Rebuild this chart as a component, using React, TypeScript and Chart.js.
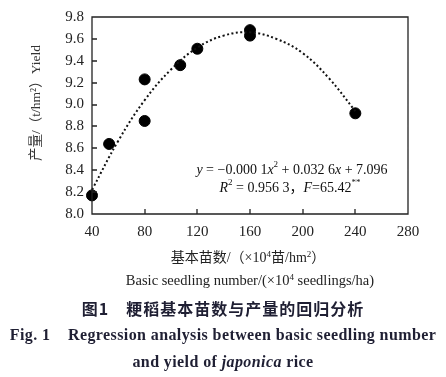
import React, { useEffect, useRef } from "react";
import { Chart, registerables } from "chart.js";
Chart.register(...registerables);

// Observed data (basic seedling number ×10^4/hm², yield t/hm²)
const seedlingX = [40, 53, 80, 80, 107, 120, 160, 160, 240];
const yieldY = [8.17, 8.64, 9.23, 8.85, 9.36, 9.51, 9.68, 9.63, 8.92];

// Dotted trend line
const trendX = [40, 60, 80, 100, 120, 140, 160, 180, 200, 220, 240];
const trendY = [8.22, 8.67, 9.04, 9.32, 9.52, 9.63, 9.66, 9.6, 9.47, 9.24, 8.94];

const xTicks = [40, 80, 120, 160, 200, 240, 280];
const yTicks = [8.0, 8.2, 8.4, 8.6, 8.8, 9.0, 9.2, 9.4, 9.6, 9.8];

const yTitle = "产量/（t/hm²）Yield";

const eqLine1 = [
  { t: "y", it: true },
  { t: " = −0.000 1" },
  { t: "x", it: true },
  { t: "2", sup: true },
  { t: " + 0.032 6" },
  { t: "x", it: true },
  { t: " + 7.096" },
];
const eqLine2 = [
  { t: "R", it: true },
  { t: "2", sup: true },
  { t: " = 0.956 3，" },
  { t: "F", it: true },
  { t: "=65.42" },
  { t: "**", sup: true },
];

const SERIF = '"Liberation Serif", "DejaVu Serif", "Noto Sans CJK SC", serif';

type Run = { t: string; it?: boolean; sup?: boolean };

function drawRuns(ctx: CanvasRenderingContext2D, runs: Run[], cx: number, y: number, size: number) {
  const fontFor = (r: Run) => `${r.it ? "italic " : ""}${r.sup ? Math.round(size * 0.62) : size}px ${SERIF}`;
  const widths = runs.map((r) => {
    ctx.font = fontFor(r);
    return ctx.measureText(r.t).width;
  });
  const total = widths.reduce((a, b) => a + b, 0);
  let x = cx - total / 2;
  ctx.textAlign = "left";
  ctx.textBaseline = "middle";
  runs.forEach((r, i) => {
    ctx.font = fontFor(r);
    ctx.fillText(r.t, x, r.sup ? y - size * 0.35 : y);
    x += widths[i];
  });
}

const framePlugin = {
  id: "framePlugin",
  afterDraw(chart: any) {
    const { ctx, chartArea } = chart;
    const xs = chart.scales.x;
    const ys = chart.scales.y;
    const L = Math.round(chartArea.left);
    const R = Math.round(chartArea.right);
    const T = Math.round(chartArea.top);
    const B = Math.round(chartArea.bottom);
    ctx.save();
    ctx.setLineDash([]);
    ctx.strokeStyle = "#222";
    ctx.lineWidth = 1.3;
    ctx.beginPath();
    ctx.moveTo(L, T);
    ctx.lineTo(R, T);
    ctx.lineTo(R, B);
    ctx.lineTo(L, B);
    ctx.closePath();
    yTicks.forEach((v) => {
      const py = Math.round(ys.getPixelForValue(v));
      ctx.moveTo(L, py);
      ctx.lineTo(L + 5, py);
    });
    xTicks.forEach((v) => {
      const px = Math.round(xs.getPixelForValue(v));
      ctx.moveTo(px, B);
      ctx.lineTo(px, B - 5);
    });
    ctx.stroke();
    ctx.fillStyle = "#111";
    drawRuns(ctx, eqLine1, 292, 170, 14);
    drawRuns(ctx, eqLine2, 290, 188, 14);
    ctx.translate(36, 103);
    ctx.rotate(-Math.PI / 2);
    ctx.font = `13.5px ${SERIF}`;
    ctx.fillStyle = "#333";
    ctx.textAlign = "center";
    ctx.textBaseline = "middle";
    ctx.fillText(yTitle, 0, 0);
    ctx.restore();
  },
};

export default function App() {
  const ref = useRef<HTMLCanvasElement>(null);
  useEffect(() => {
    document.body.style.margin = "0";
    const chart = new Chart(ref.current!, {
      type: "scatter",
      data: {
        datasets: [
          {
            type: "line",
            data: trendX.map((x, i) => ({ x, y: trendY[i] })),
            borderColor: "#111",
            borderWidth: 2,
            borderDash: [2, 2.5],
            pointRadius: 0,
            tension: 0.4,
            fill: false,
            clip: false,
          } as any,
          {
            data: seedlingX.map((x, i) => ({ x, y: yieldY[i] })),
            backgroundColor: "#000",
            borderColor: "#000",
            pointRadius: 5.5,
            clip: false,
          } as any,
        ],
      },
      options: {
        responsive: false,
        animation: false,
        layout: { padding: { left: 0, right: 38, top: 11, bottom: 0 } },
        plugins: { legend: { display: false }, tooltip: { enabled: false } },
        scales: {
          x: {
            type: "linear",
            min: 40,
            max: 280,
            afterBuildTicks: (s: any) => {
              s.ticks = xTicks.map((v) => ({ value: v }));
            },
            afterFit: (s: any) => {
              s.height = 76;
            },
            grid: { display: false, drawTicks: false },
            border: { display: false },
            ticks: { padding: 9, color: "#222", font: { family: SERIF, size: 15 }, maxRotation: 0 },
          },
          y: {
            type: "linear",
            min: 8.0,
            max: 9.8,
            afterBuildTicks: (s: any) => {
              s.ticks = yTicks.map((v) => ({ value: v }));
            },
            afterFit: (s: any) => {
              s.width = 92;
            },
            grid: { display: false, drawTicks: false },
            border: { display: false },
            ticks: {
              padding: 8,
              color: "#222",
              font: { family: SERIF, size: 15 },
              callback: (v: any) => Number(v).toFixed(1),
            },
          },
        },
      },
      plugins: [framePlugin],
    });
    return () => chart.destroy();
  }, []);

  const lineStyle = (top: number, extra: React.CSSProperties = {}): React.CSSProperties => ({
    position: "absolute",
    left: 0,
    width: 446,
    top,
    height: 20,
    lineHeight: "20px",
    textAlign: "center",
    whiteSpace: "nowrap",
    ...extra,
  });
  const sup: React.CSSProperties = { fontSize: 9, verticalAlign: "5px", lineHeight: 0 };

  return (
    <div style={{ position: "relative", width: 446, height: 377, background: "#fff", overflow: "hidden" }}>
      <canvas ref={ref} width={446} height={290} style={{ display: "block" }} />
      <div style={lineStyle(248, { fontFamily: SERIF, fontSize: 14, color: "#222", left: 25 })}>
        基本苗数/（×10<sup style={sup}>4</sup>苗/hm<sup style={sup}>2</sup>）
      </div>
      <div style={lineStyle(270, { fontFamily: SERIF, fontSize: 14.5, color: "#222", left: 27 })}>
        Basic seedling number/(×10<sup style={sup}>4</sup> seedlings/ha)
      </div>
      <div style={lineStyle(298, { fontFamily: '"Noto Sans CJK SC", sans-serif', fontWeight: 700, fontSize: 16, color: "#1f1f33", letterSpacing: 1 })}>
        图1　粳稻基本苗数与产量的回归分析
      </div>
      <div style={lineStyle(325, { fontFamily: SERIF, fontWeight: 700, fontSize: 16, color: "#1f1f33", letterSpacing: 0.4 })}>
        Fig. 1&nbsp;&nbsp;&nbsp;&nbsp;Regression analysis between basic seedling number
      </div>
      <div style={lineStyle(352, { fontFamily: SERIF, fontWeight: 700, fontSize: 16, color: "#1f1f33", letterSpacing: 0.4 })}>
        and yield of <i>japonica</i> rice
      </div>
    </div>
  );
}
